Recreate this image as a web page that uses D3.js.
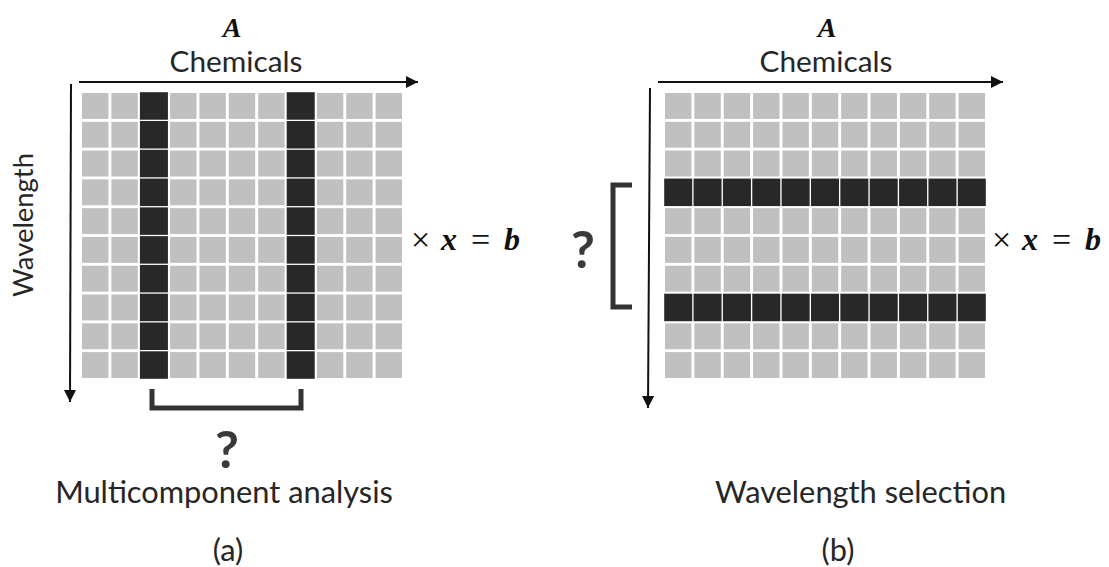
<!DOCTYPE html>
<html>
<head>
<meta charset="utf-8">
<script src="https://cdn.jsdelivr.net/npm/d3@7/dist/d3.min.js"></script>
<style>
  html, body { margin: 0; padding: 0; background: #fff; }
  svg { display: block; }
</style>
</head>
<body>
<svg id="fig" width="1109" height="567"></svg>
<script>
// Matrix A: rows are wavelengths, columns are chemicals
const chemicals = d3.range(11);          // 11 chemical columns
const wavelengths = d3.range(10);        // 10 wavelength rows
const selectedChemicals = [2, 7];        // columns picked in multicomponent analysis
const selectedWavelengths = [3, 7];      // rows picked in wavelength selection
const captions = ["Multicomponent analysis", "Wavelength selection"];
const panelTags = ["(a)", "(b)"];
const matrixName = "A";
const columnTitle = "Chemicals";
const rowTitle = "Wavelength";

const LIGHT = "#c0c0c0", DARK = "#282828", INK = "#262626";
const SANS = "Lato, 'Open Sans', sans-serif";
const SERIF = "'Liberation Serif', 'DejaVu Serif', serif";

const svg = d3.select("#fig");

// scale the font size so the text spans the given width
function fit(t, w) {
  const len = t.node().getComputedTextLength();
  const fs = parseFloat(t.attr("font-size"));
  t.attr("font-size", fs * w / len);
  return fs * w / len;
}

svg.append("defs").append("marker")
  .attr("id", "head").attr("viewBox", "0 0 10 10")
  .attr("refX", 10).attr("refY", 5)
  .attr("markerWidth", 7).attr("markerHeight", 6)
  .attr("markerUnits", "strokeWidth").attr("orient", "auto")
  .append("path").attr("d", "M0,0 L10,5 L0,10 Z").attr("fill", "#111");

const panels = [
  { x0: 82, x1: 402, y0: 93, y1: 378, mode: "cols",
    hArrow: [79, 82, 418, 82], vArrow: [71, 84, 70, 402],
    nameX: 232, titleX: 236, titleW: 133,
    eqX: 411, captionX: 224, captionAnchor: "middle", tagX: 228 },
  { x0: 665, x1: 985, y0: 93, y1: 378, mode: "rows",
    hArrow: [658, 82, 1003, 82], vArrow: [650, 88, 648, 408],
    nameX: 827, titleX: 826, titleW: 133,
    eqX: 992, captionX: 715, captionAnchor: "start", tagX: 838 }
];

// both captions share the size that makes the first one span 338px
const probe = svg.append("text").attr("font-family", SANS).attr("font-size", 27).text(captions[0]);
const captionSize = fit(probe, 338);
probe.remove();

panels.forEach((p, i) => {
  const g = svg.append("g");
  const x = d3.scaleBand().domain(chemicals).range([p.x0, p.x1]).paddingInner(0.1);
  const y = d3.scaleBand().domain(wavelengths).range([p.y0, p.y1]).paddingInner(0.1);

  const cells = [];
  wavelengths.forEach(r => chemicals.forEach(c => {
    const on = p.mode === "cols" ? selectedChemicals.includes(c) : selectedWavelengths.includes(r);
    cells.push({ r, c, on });
  }));

  g.selectAll("rect.cell").data(cells).join("rect")
    .attr("class", "cell")
    .attr("x", d => x(d.c) - (d.on ? 0.8 : 0))
    .attr("y", d => y(d.r) - (d.on ? 0.8 : 0))
    .attr("width", d => x.bandwidth() + (d.on ? 1.6 : 0))
    .attr("height", d => y.bandwidth() + (d.on ? 1.6 : 0))
    .attr("fill", d => d.on ? DARK : LIGHT);

  // axis arrows
  const [hx1, hy1, hx2, hy2] = p.hArrow;
  g.append("line").attr("x1", hx1).attr("y1", hy1).attr("x2", hx2).attr("y2", hy2)
    .attr("stroke", "#111").attr("stroke-width", 2).attr("marker-end", "url(#head)");
  const [vx1, vy1, vx2, vy2] = p.vArrow;
  g.append("line").attr("x1", vx1).attr("y1", vy1).attr("x2", vx2).attr("y2", vy2)
    .attr("stroke", "#111").attr("stroke-width", 2).attr("marker-end", "url(#head)");

  // matrix name and column title
  g.append("text").attr("x", p.nameX).attr("y", 37).attr("text-anchor", "middle")
    .attr("font-family", SERIF).attr("font-style", "italic").attr("font-weight", "bold")
    .attr("font-size", 28).attr("fill", "#111").text(matrixName);
  fit(g.append("text").attr("x", p.titleX).attr("y", 71.5).attr("text-anchor", "middle")
    .attr("font-family", SANS).attr("font-size", 25).attr("fill", INK).text(columnTitle), p.titleW);

  // × x = b
  const eq = g.append("text").attr("y", 250).attr("font-family", SERIF)
    .attr("font-size", 32).attr("fill", "#111");
  eq.append("tspan").attr("x", p.eqX).attr("y", 251).attr("font-size", 34).text("×");
  eq.append("tspan").attr("x", p.eqX + 30).attr("y", 250).attr("font-style", "italic").attr("font-weight", "bold").text("x");
  eq.append("tspan").attr("x", p.eqX + 60).attr("y", 251).attr("font-size", 34).text("=");
  eq.append("tspan").attr("x", p.eqX + 93).attr("y", 250).attr("font-style", "italic").attr("font-weight", "bold").text("b");

  // caption and panel tag
  g.append("text").attr("x", p.captionX).attr("y", 503).attr("text-anchor", p.captionAnchor)
    .attr("font-family", SANS).attr("font-size", captionSize).attr("fill", INK).text(captions[i]);
  g.append("text").attr("x", p.tagX).attr("y", 561).attr("text-anchor", "middle")
    .attr("font-family", SANS).attr("font-size", captionSize).attr("fill", INK).text(panelTags[i]);
});

// row title on the left panel
fit(svg.append("text").attr("transform", "translate(33,225) rotate(-90)")
  .attr("text-anchor", "middle").attr("font-family", SANS).attr("font-size", 27)
  .attr("fill", INK).text(rowTitle), 144);

// brackets marking the selected columns / rows
svg.append("path").attr("d", "M152,389 V408 H301 V389")
  .attr("fill", "none").attr("stroke", "#333").attr("stroke-width", 5);
svg.append("path").attr("d", "M632,185 H613 V307 H632")
  .attr("fill", "none").attr("stroke", "#333").attr("stroke-width", 5);

// question marks
svg.append("text").attr("x", 227).attr("y", 468).attr("text-anchor", "middle")
  .attr("font-family", SANS).attr("font-weight", "bold").attr("font-size", 52)
  .attr("fill", "#3a3a3a").text("?");
svg.append("text").attr("x", 583).attr("y", 268).attr("text-anchor", "middle")
  .attr("font-family", SANS).attr("font-weight", "bold").attr("font-size", 52)
  .attr("fill", "#3a3a3a").text("?");
</script>
</body>
</html>
